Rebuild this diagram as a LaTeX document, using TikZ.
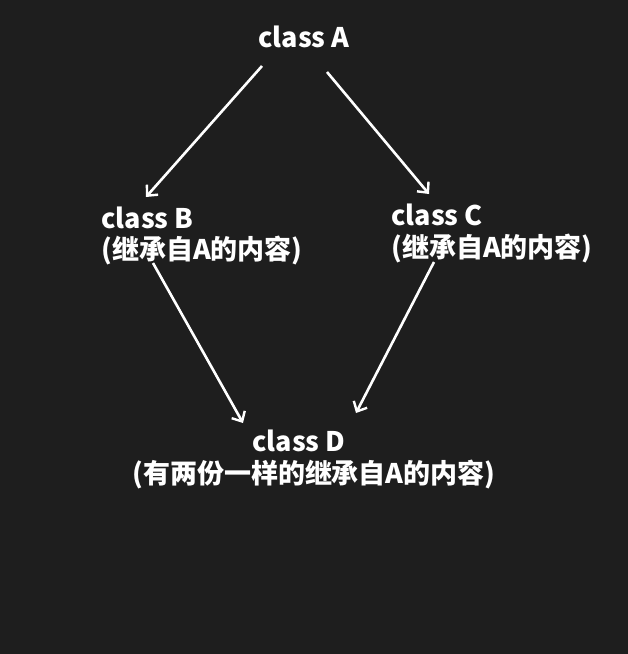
\documentclass[tikz,border=0pt]{standalone}
\usepackage{fontspec}
\setmainfont{Noto Sans CJK SC}
\usetikzlibrary{arrows.meta}
\definecolor{bg}{HTML}{1E1E1E}
\tikzset{
  lbl/.style={inner sep=0pt, anchor=base west, text=white, font=\fontsize{27}{32}\selectfont\bfseries},
  arr/.style={draw=white, line width=2.6pt, -{Straight Barb[length=8pt,width=15pt,line width=2.4pt]}}
}
\begin{document}
\begin{tikzpicture}[x=1pt,y=-1pt]
\fill[bg] (0,0) rectangle (628,654);
\useasboundingbox (0,0) rectangle (628,654);
\node[lbl] (A) at (258,47) {class A};
\node[lbl] (B) at (101,228) {class B};
\node[lbl] (Bsub) at (101,259) {(继承自A的内容)};
\node[lbl] (C) at (391,225) {class C};
\node[lbl] (Csub) at (391,257) {(继承自A的内容)};
\node[lbl] (D) at (252,451) {class D};
\node[lbl] (Dsub) at (132,483) {(有两份一样的继承自A的内容)};
\coordinate (AtoBs) at (262,66);
\coordinate (AtoBe) at (146,197);
\coordinate (AtoCs) at (327,72);
\coordinate (AtoCe) at (429,194);
\coordinate (BtoDs) at (153,263);
\coordinate (BtoDe) at (243,423);
\coordinate (CtoDs) at (434,262);
\coordinate (CtoDe) at (356,413);
\draw[arr] (AtoBs) -- (AtoBe);
\draw[arr] (AtoCs) -- (AtoCe);
\draw[arr] (BtoDs) -- (BtoDe);
\draw[arr] (CtoDs) -- (CtoDe);
\end{tikzpicture}
\end{document}
